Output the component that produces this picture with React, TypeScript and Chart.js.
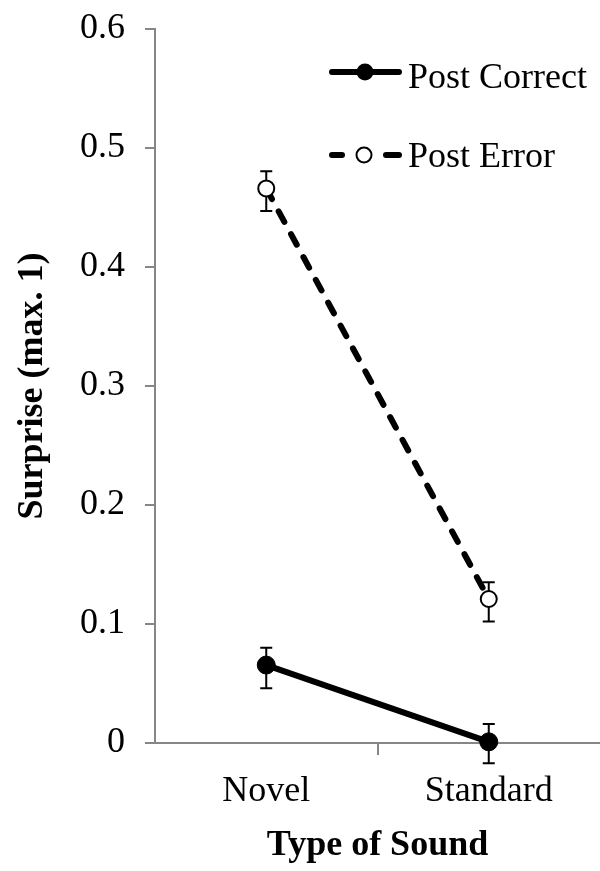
import React, { useEffect, useRef } from "react";
import { Chart, registerables } from "chart.js";

Chart.register(...registerables);

const categories = ["Novel", "Standard"];
const postCorrect = [0.0655, 0.001];
const postCorrectUpper = [0.08, 0.016];
const postCorrectLower = [0.046, -0.017];
const postError = [0.466, 0.121];
const postErrorUpper = [0.4805, 0.135];
const postErrorLower = [0.447, 0.102];
const yTicks = [0, 0.1, 0.2, 0.3, 0.4, 0.5, 0.6];
const seriesNames = ["Post Correct", "Post Error"];

const FONT = "'Liberation Serif', 'Times New Roman', serif";
const AXIS = "#868686";

const errorBarPlugin = {
  id: "errorBars",
  beforeDatasetsDraw(chart: any) {
    const ctx = chart.ctx;
    const x = chart.scales.x;
    const y = chart.scales.y;
    const sets = [
      [postCorrectUpper, postCorrectLower],
      [postErrorUpper, postErrorLower],
    ];
    ctx.save();
    ctx.strokeStyle = "#000";
    ctx.lineWidth = 2;
    sets.forEach(([up, lo]) => {
      categories.forEach((_, i) => {
        const px = x.getPixelForValue(i);
        const pu = y.getPixelForValue(up[i]);
        const pl = y.getPixelForValue(lo[i]);
        ctx.beginPath();
        ctx.moveTo(px, pu);
        ctx.lineTo(px, pl);
        ctx.moveTo(px - 6, pu);
        ctx.lineTo(px + 6, pu);
        ctx.moveTo(px - 6, pl);
        ctx.lineTo(px + 6, pl);
        ctx.stroke();
      });
    });
    ctx.restore();
  },
  afterDraw(chart: any) {
    const ctx = chart.ctx;
    ctx.save();
    // Post Correct legend
    let ly = 72;
    ctx.strokeStyle = "#000";
    ctx.lineWidth = 6;
    ctx.setLineDash([]);
    ctx.lineCap = "round";
    ctx.beginPath();
    ctx.moveTo(332, ly);
    ctx.lineTo(399, ly);
    ctx.stroke();
    ctx.fillStyle = "#000";
    ctx.beginPath();
    ctx.arc(365, ly, 8.5, 0, Math.PI * 2);
    ctx.fill();
    ctx.font = `36px ${FONT}`;
    ctx.textBaseline = "middle";
    ctx.textAlign = "left";
    ctx.fillText(seriesNames[0], 408, 79);
    // Post Error legend
    ly = 155;
    ctx.beginPath();
    ctx.moveTo(332, ly);
    ctx.lineTo(342, ly);
    ctx.moveTo(386, ly);
    ctx.lineTo(399, ly);
    ctx.stroke();
    ctx.fillStyle = "#fff";
    ctx.lineWidth = 2;
    ctx.beginPath();
    ctx.arc(364, ly, 7.5, 0, Math.PI * 2);
    ctx.fill();
    ctx.stroke();
    ctx.fillStyle = "#000";
    ctx.fillText(seriesNames[1], 408, 158);
    ctx.restore();
  },
};

export default function App() {
  const ref = useRef<HTMLCanvasElement>(null);
  useEffect(() => {
    document.body.style.margin = "0";
    const chart = new Chart(ref.current as HTMLCanvasElement, {
      type: "line",
      data: {
        labels: categories,
        datasets: [
          {
            label: seriesNames[0],
            data: postCorrect,
            borderColor: "#000",
            backgroundColor: "#000",
            borderWidth: 6,
            pointRadius: 9,
            pointBackgroundColor: "#000",
            pointBorderColor: "#000",
            pointBorderWidth: 1,
            tension: 0,
            clip: false,
          },
          {
            label: seriesNames[1],
            data: postError,
            borderColor: "#000",
            backgroundColor: "#fff",
            borderWidth: 6,
            borderDash: [12, 14],
            borderCapStyle: "round",
            pointRadius: 8,
            pointBackgroundColor: "#fff",
            pointBorderColor: "#000",
            pointBorderWidth: 2,
            tension: 0,
            clip: false,
          },
        ],
      },
      options: {
        animation: false,
        responsive: false,
        maintainAspectRatio: false,
        devicePixelRatio: 1,
        layout: { autoPadding: false, padding: { top: 29, right: 0, left: 0, bottom: 0 } },
        plugins: {
          legend: { display: false },
          tooltip: { enabled: false },
        },
        scales: {
          x: {
            type: "category",
            offset: true,
            afterFit: (s: any) => {
              s.height = 128;
              s.paddingLeft = 0;
              s.paddingRight = 0;
            },
            grid: {
              offset: true,
              drawOnChartArea: false,
              drawTicks: true,
              tickLength: 12,
              lineWidth: 2,
              color: (c: any) => (c.index === 1 ? AXIS : "rgba(0,0,0,0)"),
            },
            border: { display: true, color: AXIS, width: 2 },
            ticks: {
              color: "#000",
              padding: 15,
              font: { family: FONT, size: 36 },
              maxRotation: 0,
            },
            title: {
              display: true,
              text: "Type of Sound",
              color: "#000",
              font: { family: FONT, size: 36, weight: "bold" },
              padding: { top: 0, bottom: 4 },
            },
          },
          y: {
            min: 0,
            max: 0.6,
            afterFit: (s: any) => {
              s.width = 155;
              s.paddingTop = 0;
              s.paddingBottom = 0;
            },
            afterBuildTicks: (s: any) => {
              s.ticks = yTicks.map((v) => ({ value: v }));
            },
            grid: {
              drawOnChartArea: false,
              drawTicks: true,
              tickLength: 10,
              lineWidth: 2,
              color: AXIS,
            },
            border: { display: true, color: AXIS, width: 2 },
            ticks: {
              color: "#000",
              padding: 20,
              font: { family: FONT, size: 36 },
              callback: (v: any) => (Number(v) === 0 ? "0" : Number(v).toFixed(1)),
            },
            title: {
              display: true,
              text: "Surprise (max. 1)",
              color: "#000",
              font: { family: FONT, size: 36, weight: "bold" },
              padding: { top: 11, bottom: 0 },
            },
          },
        },
      },
      plugins: [errorBarPlugin],
    } as any);
    return () => chart.destroy();
  }, []);
  return <canvas ref={ref} width={600} height={871} style={{ display: "block" }} />;
}
